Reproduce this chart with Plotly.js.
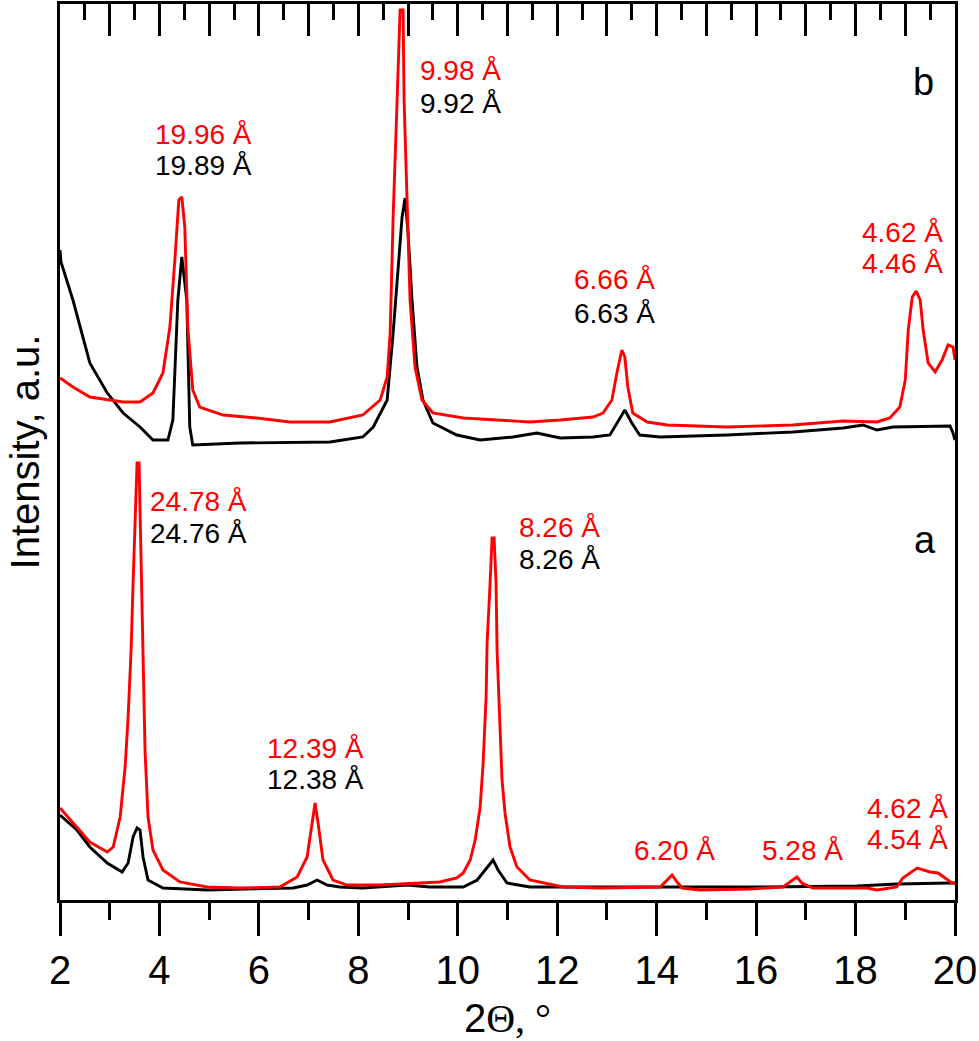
<!DOCTYPE html>
<html>
<head>
<meta charset="utf-8">
<script src="https://cdn.plot.ly/plotly-3.0.1.min.js"></script>
<style>
  html, body { margin: 0; padding: 0; background: #fff; }
  #chart { width: 979px; height: 1041px; }
</style>
</head>
<body>
<div id="chart"></div>
<script>
// XRD patterns, 2-theta in degrees, intensity in arbitrary (stacked) units
const RED = '#ff0000';
const BLACK = '#000000';
const FONT = 'Arial, "Liberation Sans", sans-serif';

// pattern b (upper)
const blackBX = [2.00, 2.02, 2.26, 2.60, 2.95, 3.27, 3.61, 3.87, 4.17, 4.27, 4.37, 4.45, 4.55, 4.61, 4.67, 5.62, 7.43, 8.09, 8.30, 8.58, 8.70, 8.80, 8.88, 8.94, 9.00, 9.08, 9.18, 9.30, 9.50, 9.98, 10.45, 11.11, 11.59, 12.06, 12.72, 13.06, 13.22, 13.36, 13.50, 13.66, 14.07, 15.41, 16.74, 17.75, 18.15, 18.43, 18.75, 19.44, 19.90, 19.96, 20.00];
const blackBY = [650, 638, 600, 537, 507, 487, 473, 460, 460, 480, 600, 643, 600, 473, 455, 457, 458, 463, 473, 500, 567, 633, 683, 702, 667, 600, 533, 500, 477, 465, 460, 463, 467, 462, 463, 465, 478, 490, 477, 465, 463, 465, 468, 472, 475, 470, 473, 474, 474, 467, 460];

const redBX = [2.00, 2.26, 2.60, 2.95, 3.27, 3.61, 3.87, 4.07, 4.21, 4.31, 4.39, 4.45, 4.51, 4.57, 4.67, 4.81, 5.28, 5.96, 6.62, 7.43, 8.09, 8.44, 8.58, 8.64, 8.70, 8.78, 8.84, 8.90, 8.92, 8.98, 9.04, 9.14, 9.28, 9.50, 10.11, 10.79, 11.45, 12.06, 12.72, 12.92, 13.10, 13.20, 13.30, 13.36, 13.42, 13.52, 13.81, 14.21, 15.41, 16.74, 17.75, 18.43, 18.69, 18.89, 19.00, 19.06, 19.14, 19.22, 19.30, 19.36, 19.46, 19.60, 19.74, 19.86, 19.96, 20.00];
const redBY = [522, 513, 503, 500, 498, 498, 507, 527, 573, 640, 700, 703, 673, 573, 510, 493, 485, 482, 478, 478, 485, 500, 523, 567, 683, 800, 890, 890, 800, 700, 600, 533, 500, 487, 482, 480, 478, 480, 483, 487, 500, 527, 550, 543, 513, 487, 478, 475, 473, 475, 479, 478, 482, 493, 520, 570, 603, 609, 600, 570, 537, 528, 540, 555, 553, 540];

// pattern a (lower)
const blackAX = [2.00, 2.34, 2.60, 2.95, 3.25, 3.37, 3.47, 3.55, 3.61, 3.67, 3.77, 4.07, 4.96, 6.69, 6.97, 7.17, 7.37, 7.63, 8.09, 8.98, 9.44, 10.11, 10.39, 10.59, 10.71, 10.81, 10.99, 11.45, 13.46, 16.09, 18.03, 18.83, 19.90, 20.00];
const blackAY = [85, 70, 53, 37, 28, 37, 63, 72, 70, 43, 20, 12, 10, 12, 15, 20, 15, 13, 12, 15, 13, 13, 20, 33, 40, 30, 17, 13, 13, 13, 14, 16, 17, 17];

const redAX = [2.00, 2.26, 2.60, 2.95, 3.07, 3.21, 3.31, 3.37, 3.43, 3.47, 3.53, 3.55, 3.59, 3.63, 3.67, 3.71, 3.77, 3.87, 4.07, 4.41, 4.96, 5.62, 6.42, 6.77, 6.97, 7.07, 7.13, 7.19, 7.29, 7.49, 7.77, 8.44, 9.10, 9.64, 9.98, 10.11, 10.25, 10.35, 10.45, 10.51, 10.57, 10.59, 10.65, 10.69, 10.73, 10.77, 10.79, 10.85, 10.89, 10.95, 11.05, 11.19, 11.45, 12.12, 12.86, 14.07, 14.21, 14.31, 14.41, 14.51, 14.87, 15.88, 16.54, 16.72, 16.82, 16.92, 17.14, 18.23, 18.43, 18.83, 18.95, 19.24, 19.50, 19.66, 19.80, 19.94, 20.00];
const redAY = [92, 77, 58, 48, 53, 83, 133, 183, 250, 317, 400, 437, 437, 350, 250, 150, 83, 50, 30, 18, 13, 12, 13, 23, 43, 77, 97, 77, 40, 20, 15, 15, 17, 18, 22, 27, 40, 60, 93, 137, 203, 257, 317, 362, 362, 317, 250, 163, 120, 87, 53, 33, 20, 13, 12, 13, 20, 25, 18, 12, 10, 11, 13, 20, 23, 17, 12, 12, 10, 13, 22, 32, 28, 27, 22, 17, 16];

// d-spacing labels
const labelsB = ['19.96 Å', '19.89 Å', '9.98 Å', '9.92 Å', '6.66 Å', '6.63 Å', '4.62 Å', '4.46 Å'];
const labelsA = ['24.78 Å', '24.76 Å', '12.39 Å', '12.38 Å', '8.26 Å', '8.26 Å', '6.20 Å', '5.28 Å', '4.62 Å', '4.54 Å'];

function line(x, y, color, xaxis) {
    return {
        x: x, y: y,
        type: 'scatter', mode: 'lines',
        xaxis: xaxis || 'x',
        line: { color: color, width: 2.9 },
        hoverinfo: 'skip',
        showlegend: false,
    };
}

const traces = [
    line(blackAX, blackAY, BLACK),
    line(redAX, redAY, RED),
    line(blackBX, blackBY, BLACK, 'x2'),
    line(redBX, redBY, RED, 'x2'),
];

function note(text, x, y, color, size, anchor) {
    return {
        text: text, x: x, y: y, xref: 'x', yref: 'y',
        xanchor: anchor || 'left', yanchor: 'middle',
        showarrow: false,
        font: { family: FONT, size: size || 28, color: color },
    };
}

const annotations = [
    note(labelsB[0], 3.87, 766, RED), note(labelsB[1], 3.87, 735, BLACK),
    note(labelsB[2], 9.20, 830, RED), note(labelsB[3], 9.20, 797, BLACK),
    note(labelsB[4], 12.30, 621, RED), note(labelsB[5], 12.30, 587, BLACK),
    note(labelsB[6], 18.09, 668, RED), note(labelsB[7], 18.09, 637, RED),
    note(labelsA[0], 3.77, 399, RED), note(labelsA[1], 3.77, 367, BLACK),
    note(labelsA[2], 6.12, 152, RED), note(labelsA[3], 6.12, 121, BLACK),
    note(labelsA[4], 11.19, 373, RED), note(labelsA[5], 11.19, 341, BLACK),
    note(labelsA[6], 13.50, 50, RED), note(labelsA[7], 16.08, 50, RED),
    note(labelsA[8], 18.19, 92, RED), note(labelsA[9], 18.19, 61, RED),
    note('b', 19.36, 818, BLACK, 38, 'center'),
    note('a', 19.40, 360, BLACK, 38, 'center'),
];

const layout = {
    width: 979,
    height: 1041,
    margin: { l: 60, r: 24, t: 4, b: 141 },
    paper_bgcolor: '#fff',
    plot_bgcolor: '#fff',
    font: { family: FONT, color: '#000' },
    showlegend: false,
    xaxis: {
        range: [2, 20],
        dtick: 2, tick0: 2,
        ticks: 'outside', ticklen: 33, tickwidth: 3, tickcolor: '#000',
        minor: { dtick: 1, ticks: 'outside', ticklen: 17, tickwidth: 3, tickcolor: '#000' },
        showline: true, linewidth: 3, linecolor: '#000',
        showgrid: false, zeroline: false,
        tickfont: { family: FONT, size: 40 },
        title: {
            text: '2<span style="font-family:\'Liberation Serif\', \'Times New Roman\', serif">Θ, °</span>',
            font: { family: FONT, size: 40 },
            standoff: 14,
        },
    },
    xaxis2: {
        overlaying: 'x', side: 'top', anchor: 'y',
        range: [2, 20],
        dtick: 1, tick0: 2,
        ticks: 'inside', ticklen: 32, tickwidth: 3, tickcolor: '#000',
        minor: { dtick: 0.5, ticks: 'inside', ticklen: 16, tickwidth: 3, tickcolor: '#000' },
        showticklabels: false,
        showline: true, linewidth: 3, linecolor: '#000',
        showgrid: false, zeroline: false,
    },
    yaxis: {
        range: [0, 896],
        showticklabels: false, ticks: '',
        showline: true, linewidth: 3, linecolor: '#000', mirror: true,
        showgrid: false, zeroline: false,
        title: { text: 'Intensity, a.u.', font: { family: FONT, size: 40 }, standoff: 6 },
    },
    annotations: annotations,
};

Plotly.newPlot('chart', traces, layout, { staticPlot: true, displayModeBar: false });
</script>
</body>
</html>
